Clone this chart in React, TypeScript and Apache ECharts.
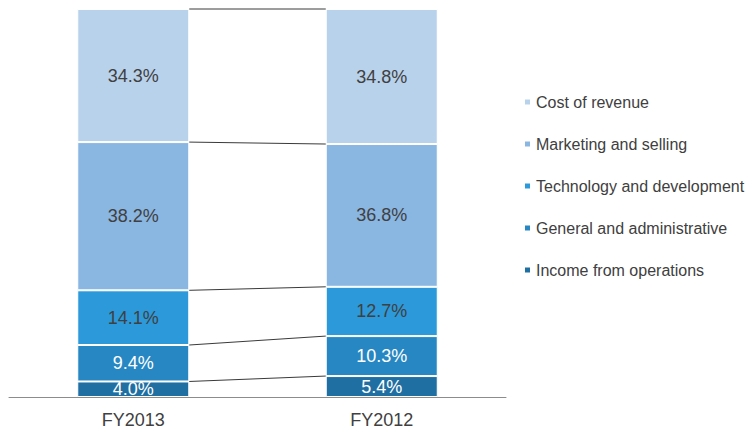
import React, { useEffect, useRef } from "react";
import * as echarts from "echarts";

const categories = ["FY2013", "FY2012"];
// Stack order: bottom to top
const seriesNames = [
  "Income from operations",
  "General and administrative",
  "Technology and development",
  "Marketing and selling",
  "Cost of revenue",
];
const incomeFromOperations = [4.0, 5.4];
const generalAndAdministrative = [9.4, 10.3];
const technologyAndDevelopment = [14.1, 12.7];
const marketingAndSelling = [38.2, 36.8];
const costOfRevenue = [34.3, 34.8];
const seriesColors = ["#1f6fa3", "#2787c3", "#2c99da", "#8ab6e2", "#b9d2ec"];
const labelColors = ["#ffffff", "#ffffff", "#404040", "#404040", "#404040"];

const FONT = "'Liberation Sans', Arial, sans-serif";
const BAR_WIDTH = 112;

export default function App() {
  const ref = useRef<HTMLDivElement>(null);

  useEffect(() => {
    if (!ref.current) return;
    const chart = echarts.init(ref.current, undefined, { renderer: "svg" });
    const values = [
      incomeFromOperations,
      generalAndAdministrative,
      technologyAndDevelopment,
      marketingAndSelling,
      costOfRevenue,
    ];
    // cumulative tops of each segment, for connector lines
    const boundaries: number[][] = [];
    const acc = [0, 0];
    values.forEach((arr) => {
      acc[0] += arr[0];
      acc[1] += arr[1];
      boundaries.push([0, Math.round(acc[0] * 10) / 10, Math.round(acc[1] * 10) / 10]);
    });

    const barSeries = values.map((arr, i) => ({
      name: seriesNames[i],
      type: "bar",
      stack: "total",
      barWidth: BAR_WIDTH,
      data: arr,
      itemStyle: { color: seriesColors[i], borderColor: "#ffffff", borderWidth: 1 },
      label: {
        show: true,
        position: "inside",
        formatter: (p: any) => `${Number(p.value).toFixed(1)}%`,
        color: labelColors[i],
        fontSize: 18,
        fontFamily: FONT,
      },
    }));

    chart.setOption({
      animation: false,
      backgroundColor: "#ffffff",
      textStyle: { fontFamily: FONT },
      grid: { left: 9, top: 9, right: 241, bottom: 35, containLabel: false },
      legend: {
        orient: "vertical",
        left: 523,
        top: 94,
        padding: 0,
        itemWidth: 7,
        itemHeight: 7,
        itemGap: 26,
        icon: "rect",
        data: [...seriesNames].reverse(),
        textStyle: { color: "#404040", fontSize: 16, fontFamily: FONT },
      },
      xAxis: {
        type: "category",
        data: categories,
        axisLine: { lineStyle: { color: "#8c8c8c", width: 1 } },
        axisTick: { show: false },
        axisLabel: { color: "#404040", fontSize: 18, fontFamily: FONT, margin: 14 },
      },
      yAxis: {
        type: "value",
        min: 0,
        max: 100,
        show: false,
        splitLine: { show: false },
      },
      series: [
        ...barSeries,
        {
          type: "custom",
          name: "connectors",
          silent: true,
          z: 5,
          encode: { x: 0, y: [1, 2] },
          data: boundaries,
          renderItem: (params: any, api: any) => {
            const p1 = api.coord([0, api.value(1)]);
            const p2 = api.coord([1, api.value(2)]);
            return {
              type: "line",
              shape: {
                x1: p1[0] + BAR_WIDTH / 2,
                y1: p1[1],
                x2: p2[0] - BAR_WIDTH / 2,
                y2: p2[1],
              },
              style: { stroke: "#3a3a3a", lineWidth: 1 },
            };
          },
        },
      ],
    });
    return () => chart.dispose();
  }, []);

  return <div ref={ref} style={{ width: 747, height: 432, position: "absolute", left: 0, top: 0 }} />;
}
